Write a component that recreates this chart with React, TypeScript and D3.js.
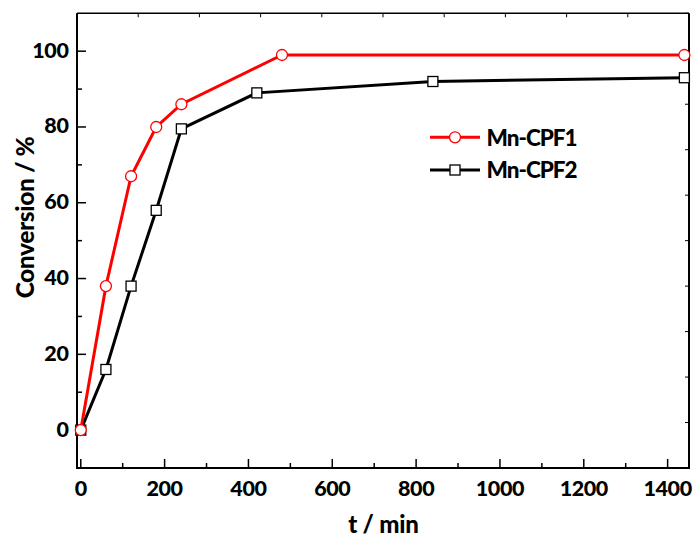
import React from "react";
import * as d3 from "d3";

const timeCPF1 = [0, 60, 120, 180, 240, 480, 1440];
const convCPF1 = [0, 38, 67, 80, 86, 99, 99];
const timeCPF2 = [0, 60, 120, 180, 240, 420, 840, 1440];
const convCPF2 = [0, 16, 38, 58, 79.5, 89, 92, 93];
const xMajorTicks = [0, 200, 400, 600, 800, 1000, 1200, 1400];
const xMinorTicks = [100, 300, 500, 700, 900, 1100, 1300];
const yMajorTicks = [0, 20, 40, 60, 80, 100];
const yMinorTicks = [-10, 10, 30, 50, 70, 90];
const seriesNames = ["Mn-CPF1", "Mn-CPF2"];

const W = 697;
const H = 541;
const L = 77, R = 689, T = 13.3, B = 468;
const FONT = "Lato, 'Liberation Sans', sans-serif";

export default function App() {
  const x = d3.scaleLinear().domain([-9, 1451]).range([L, R]);
  const y = d3.scaleLinear().domain([-10, 110]).range([B, T]);
  const line = d3
    .line<[number, number]>()
    .x((d) => x(d[0]))
    .y((d) => y(d[1]));
  const d1: [number, number][] = timeCPF1.map((t, i) => [t, convCPF1[i]]);
  const d2: [number, number][] = timeCPF2.map((t, i) => [t, convCPF2[i]]);
  const topTicks = d3.range(11).map((i) => L + (i * (R - L)) / 10);
  const rightTicks = d3.range(11).map((i) => T + (i * (B - T)) / 10);

  const legX = 430;
  const legY1 = 137.3;
  const legY2 = 170;

  return (
    <svg
      width={W}
      height={H}
      style={{ position: "absolute", left: 0, top: 0, background: "#fff" }}
      fontFamily={FONT}
    >
      <rect x={0} y={0} width={W} height={H} fill="#fff" />
      {/* frame */}
      <line x1={L} y1={T} x2={R} y2={T} stroke="#000" strokeWidth={1.5} />
      <line x1={R} y1={T} x2={R} y2={B} stroke="#000" strokeWidth={2} />
      <line x1={L} y1={T} x2={L} y2={B + 1} stroke="#000" strokeWidth={2} />
      <line x1={L - 1} y1={B} x2={R + 1} y2={B} stroke="#000" strokeWidth={2} />
      {topTicks.map((p, i) => (
        <line key={"tt" + i} x1={p} x2={p} y1={T} y2={T + 4} stroke="#000" strokeWidth={1} />
      ))}
      {rightTicks.map((p, i) => (
        <line key={"rt" + i} x1={R} x2={R - 4} y1={p} y2={p} stroke="#000" strokeWidth={1} />
      ))}
      {/* bottom ticks */}
      {xMajorTicks.map((v) => (
        <g key={"xm" + v}>
          <line x1={x(v)} x2={x(v)} y1={B} y2={B - 9} stroke="#000" strokeWidth={1.5} />
          <text
            x={x(v)}
            y={495.5}
            textAnchor="middle"
            fontSize={21.5}
            fontWeight={900}
            letterSpacing={-0.4}
          >
            {v}
          </text>
        </g>
      ))}
      {xMinorTicks.map((v) => (
        <line key={"xn" + v} x1={x(v)} x2={x(v)} y1={B} y2={B - 5} stroke="#000" strokeWidth={1.5} />
      ))}
      {/* left ticks */}
      {yMajorTicks.map((v) => (
        <g key={"ym" + v}>
          <line x1={L} x2={L + 9} y1={y(v)} y2={y(v)} stroke="#000" strokeWidth={1.5} />
          <text
            x={68.5}
            y={y(v) + 6.5}
            textAnchor="end"
            fontSize={21.5}
            fontWeight={900}
            letterSpacing={-0.4}
          >
            {v}
          </text>
        </g>
      ))}
      {yMinorTicks.map((v) => (
        <line key={"yn" + v} x1={L} x2={L + 5} y1={y(v)} y2={y(v)} stroke="#000" strokeWidth={1.5} />
      ))}
      {/* axis titles */}
      <text
        x={383.5}
        y={533}
        textAnchor="middle"
        fontSize={24}
        fontWeight={900}
        letterSpacing={-0.2}
      >
        t / min
      </text>
      <text
        transform={`translate(34, 217.5) rotate(-90)`}
        textAnchor="middle"
        fontSize={24.5}
        fontWeight={900}
        letterSpacing={-0.4}
      >
        Conversion / %
      </text>
      {/* series 2 */}
      <path d={line(d2) || ""} fill="none" stroke="#000" strokeWidth={3} />
      {d2.map((d, i) => (
        <rect
          key={"s2" + i}
          x={x(d[0]) - 5}
          y={y(d[1]) - 5}
          width={10}
          height={10}
          fill="#fff"
          stroke="#000"
          strokeWidth={1.3}
        />
      ))}
      {/* series 1 */}
      <path d={line(d1) || ""} fill="none" stroke="#ff0000" strokeWidth={3} />
      {d1.map((d, i) => (
        <circle
          key={"s1" + i}
          cx={x(d[0])}
          cy={y(d[1])}
          r={5.5}
          fill="#fff"
          stroke="#ff0000"
          strokeWidth={1.3}
        />
      ))}
      {/* legend */}
      <line x1={legX} x2={legX + 50} y1={legY1} y2={legY1} stroke="#ff0000" strokeWidth={3} />
      <circle cx={legX + 25} cy={legY1} r={5.5} fill="#fff" stroke="#ff0000" strokeWidth={1.3} />
      <text x={486.5} y={legY1 + 8.2} fontSize={22.5} fontWeight={900} letterSpacing={-1}>
        {seriesNames[0]}
      </text>
      <line x1={legX} x2={legX + 50} y1={legY2} y2={legY2} stroke="#000" strokeWidth={3} />
      <rect x={legX + 20} y={legY2 - 5} width={10} height={10} fill="#fff" stroke="#000" strokeWidth={1.3} />
      <text x={486.5} y={legY2 + 8.2} fontSize={22.5} fontWeight={900} letterSpacing={-1}>
        {seriesNames[1]}
      </text>
    </svg>
  );
}
